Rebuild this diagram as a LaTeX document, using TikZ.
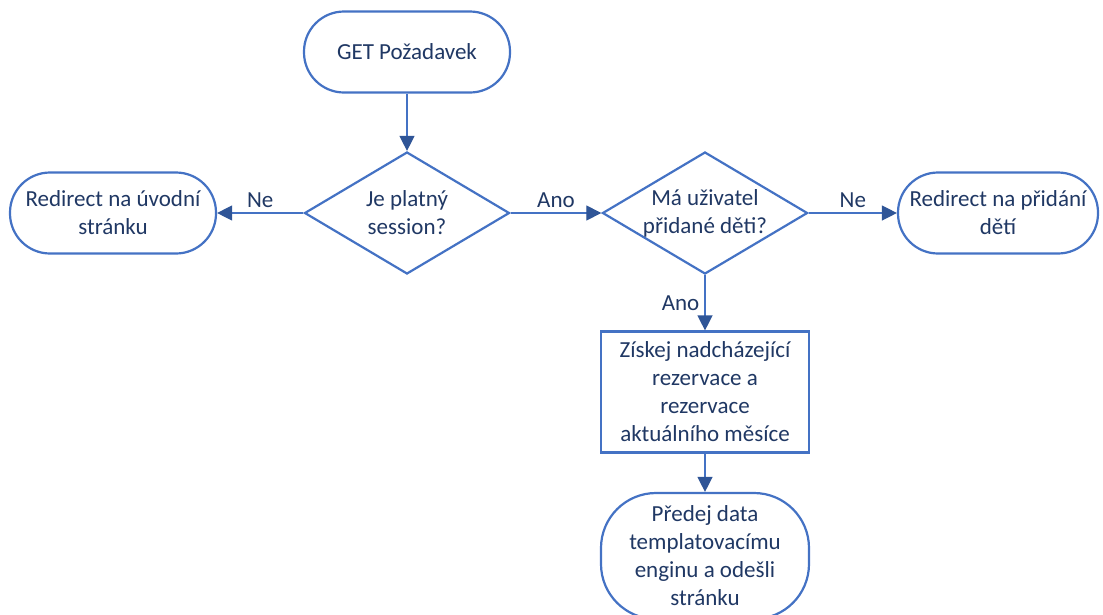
\documentclass[tikz,border=0pt]{standalone}
\usepackage{fontspec}
\setmainfont{Carlito}
\usepackage{tikz}
\usetikzlibrary{arrows.meta,shapes.geometric}
\definecolor{shapeBlue}{HTML}{4472C4}
\definecolor{tipBlue}{HTML}{2F5597}
\definecolor{textNavy}{HTML}{203864}

\begin{document}
\begin{tikzpicture}[x=1pt,y=-1pt,
    txt/.style={text=textNavy,font=\fontsize{23}{28}\selectfont},
    base/.style={txt,draw=shapeBlue,line width=2.2pt,fill=white,align=center,inner sep=2pt},
    term/.style={base,rectangle,rounded corners=40pt,minimum width=206pt,minimum height=81pt},
    decision/.style={base,diamond,aspect=1.7,inner sep=0pt,minimum width=205pt,minimum height=122pt},
    process/.style={base,rectangle,minimum width=208pt,minimum height=121pt},
    conn/.style={draw=shapeBlue,line width=1.3pt,-{Triangle[length=15pt,width=15pt,color=tipBlue]}},
    lbl/.style={txt,inner sep=5pt}]
    \useasboundingbox (0,0) rectangle (1103,614);
    \clip (0,0) rectangle (1103,614);
    % shapes
    \node[term] (get) at (407,52) {GET Požadavek};
    \node[decision] (session) at (407,213) {Je platný\\session?};
    \node[decision] (deti) at (705,213) {Má uživatel\\přidané děti?};
    \node[term] (uvod) at (113,213) {Redirect na úvodní\\stránku};
    \node[term,minimum width=200pt] (pridani) at (998,213) {Redirect na přidání\\dětí};
    \node[process] (rezervace) at (705,392) {Získej nadcházející\\rezervace a\\rezervace\\aktuálního měsíce};
    \node[term,rounded corners=55pt,minimum width=208pt,minimum height=126pt] (odeslat) at (705,556)
      {Předej data\\templatovacímu\\enginu a odešli\\stránku};
    % connectors
    \draw[conn] (get) -- (session);
    \draw[conn] (session) -- node[lbl,above] {Ne} (uvod);
    \draw[conn] (session) -- node[lbl,above] {Ano} (deti);
    \draw[conn] (deti) -- node[lbl,above] {Ne} (pridani);
    \draw[conn] (deti) -- node[lbl,left] {Ano} (rezervace);
    \draw[conn] (rezervace) -- (odeslat);
\end{tikzpicture}
\end{document}
